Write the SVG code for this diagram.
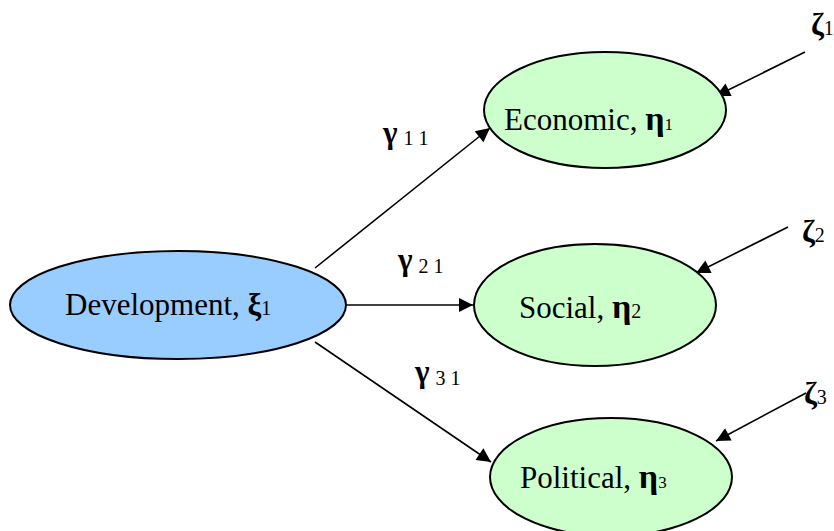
<svg xmlns="http://www.w3.org/2000/svg" width="834" height="531" viewBox="0 0 834 531">
<style>
.lbl{font-size:31px}
.g{font-size:31px;font-weight:bold}
.s{font-size:20px;font-weight:normal}
.e{stroke:#000;stroke-width:2}
.c{stroke:#000;stroke-width:1.6;fill:none;marker-end:url(#ah)}
</style>
<defs>
<marker id="ah" viewBox="0 0 10 10" markerWidth="16" markerHeight="14" refX="10" refY="5" orient="auto" markerUnits="userSpaceOnUse">
<path d="M0,0 L10,5 L0,10 z" fill="#000"/>
</marker>
</defs>
<rect width="834" height="531" fill="#fff"/>
<g id="connectors">
<line class="c" x1="315" y1="268" x2="490" y2="128"/>
<line class="c" x1="346" y1="305" x2="473" y2="305"/>
<line class="c" x1="315" y1="342" x2="491" y2="462"/>
<line class="c" x1="805" y1="52" x2="716" y2="96"/>
<line class="c" x1="788" y1="227" x2="696" y2="273"/>
<line class="c" x1="806" y1="393" x2="716" y2="441"/>
</g>
<g id="development">
<ellipse class="e" cx="178" cy="305" rx="168" ry="54" fill="#99CCFF"/>
<text class="lbl" x="65" y="315" font-family="Liberation Serif">Development, <tspan font-weight="bold" font-size="31">ξ</tspan><tspan font-size="20">1</tspan></text>
</g>
<g id="economic">
<ellipse class="e" cx="605" cy="110" rx="121" ry="58" fill="#CCFFCC"/>
<text class="lbl" x="504" y="130" font-family="Liberation Serif">Economic, <tspan font-weight="bold" font-size="34">η</tspan><tspan font-size="17">1</tspan></text>
</g>
<g id="social">
<ellipse class="e" cx="595" cy="305" rx="121" ry="61" fill="#CCFFCC"/>
<text class="lbl" x="519" y="318" font-family="Liberation Serif">Social, <tspan font-weight="bold" font-size="34">η</tspan><tspan font-size="20">2</tspan></text>
</g>
<g id="political">
<ellipse class="e" cx="611" cy="477" rx="121" ry="59" fill="#CCFFCC"/>
<text class="lbl" x="520" y="488" font-family="Liberation Serif">Political, <tspan font-weight="bold" font-size="34">η</tspan><tspan font-size="17">3</tspan></text>
</g>
<g id="labels">
<text class="g" x="383" y="143" font-family="Liberation Serif">γ<tspan class="s" dx="6" dy="2">1 1</tspan></text>
<text class="g" x="398" y="270" font-family="Liberation Serif">γ<tspan class="s" dx="6" dy="3">2 1</tspan></text>
<text class="g" x="415" y="382" font-family="Liberation Serif">γ<tspan class="s" dx="6" dy="3">3 1</tspan></text>
<text class="g" x="811" y="35" font-family="Liberation Serif">ζ<tspan class="s" font-size="22">1</tspan></text>
<text class="g" x="802" y="242" font-family="Liberation Serif">ζ<tspan class="s" font-size="22">2</tspan></text>
<text class="g" x="804" y="404" font-family="Liberation Serif">ζ<tspan class="s" font-size="22">3</tspan></text>
</g>
</svg>
